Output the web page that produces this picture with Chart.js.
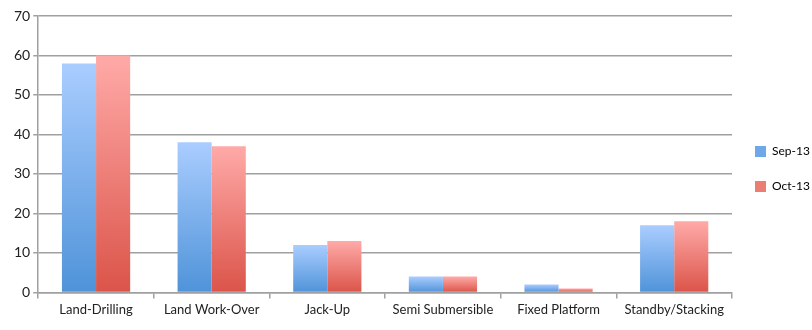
<!DOCTYPE html>
<html lang="en">
<head>
    <meta charset="UTF-8">
    <title>Rigs by type</title>
    <script src="https://cdn.jsdelivr.net/npm/chart.js"></script>
    <style>
        body {
            margin: 0;
            background-color: #fff;
        }
        canvas {
            display: block;
        }
    </style>
</head>
<body>
    <canvas id="myChart" width="812" height="330"></canvas>

    <script>
        const ctx = document.getElementById('myChart').getContext('2d');

        // Data
        const categories = ['Land-Drilling', 'Land Work-Over', 'Jack-Up', 'Semi Submersible', 'Fixed Platform', 'Standby/Stacking'];
        const sep13 = [58, 38, 12, 4, 2, 17];
        const oct13 = [60, 37, 13, 4, 1, 18];
        const seriesNames = ['Sep-13', 'Oct-13'];

        // per-bar vertical gradient, light at top, dark at bottom
        function barGradient(top, bottom, solid) {
            return function (context) {
                const chart = context.chart;
                if (!chart.chartArea || context.type !== 'data') return solid;
                const y = chart.scales.y;
                const v = context.raw;
                const y0 = y.getPixelForValue(0);
                const y1 = y.getPixelForValue(v);
                if (y0 === y1) return solid;
                const g = chart.ctx.createLinearGradient(0, y1, 0, y0);
                g.addColorStop(0, top);
                g.addColorStop(1, bottom);
                return g;
            };
        }

        const font = "Lato, 'Open Sans', sans-serif";

        const myChart = new Chart(ctx, {
            type: 'bar',
            data: {
                labels: categories,
                datasets: [
                    {
                        label: seriesNames[0],
                        data: sep13,
                        backgroundColor: barGradient('#aacdff', '#4f93d9', '#6fa8e8'),
                        borderWidth: 0
                    },
                    {
                        label: seriesNames[1],
                        data: oct13,
                        backgroundColor: barGradient('#ffaaa8', '#db5449', '#ec7d75'),
                        borderWidth: 0
                    }
                ]
            },
            options: {
                responsive: false,
                animation: false,
                categoryPercentage: 0.59,
                barPercentage: 1.0,
                layout: {
                    padding: { top: 16, right: 0, bottom: 8, left: 11 }
                },
                plugins: {
                    tooltip: { enabled: false },
                    legend: {
                        position: 'right',
                        maxWidth: 80,
                        labels: {
                            boxWidth: 11,
                            boxHeight: 11,
                            padding: 23,
                            color: '#222',
                            font: { family: font, size: 12 },
                            generateLabels: function (chart) {
                                const cols = ['#6fa8e8', '#ec7d75'];
                                return chart.data.datasets.map((ds, i) => ({
                                    text: ds.label,
                                    fillStyle: cols[i],
                                    strokeStyle: cols[i],
                                    lineWidth: 0,
                                    datasetIndex: i
                                }));
                            }
                        }
                    }
                },
                scales: {
                    x: {
                        grid: {
                            offset: true,
                            drawOnChartArea: false,
                            drawTicks: true,
                            tickLength: 6,
                            color: '#a0a0a0',
                            lineWidth: 1.5
                        },
                        border: { color: '#a0a0a0', width: 1.5 },
                        ticks: {
                            color: '#222',
                            padding: 4,
                            font: { family: font, size: 13 }
                        }
                    },
                    y: {
                        min: 0,
                        max: 70,
                        ticks: {
                            stepSize: 10,
                            color: '#222',
                            padding: 3,
                            font: { family: font, size: 14 }
                        },
                        grid: {
                            color: '#a0a0a0',
                            lineWidth: 1.5,
                            tickLength: 5
                        },
                        border: { color: '#a0a0a0', width: 1.5 }
                    }
                }
            }
        });
    </script>
</body>
</html>
